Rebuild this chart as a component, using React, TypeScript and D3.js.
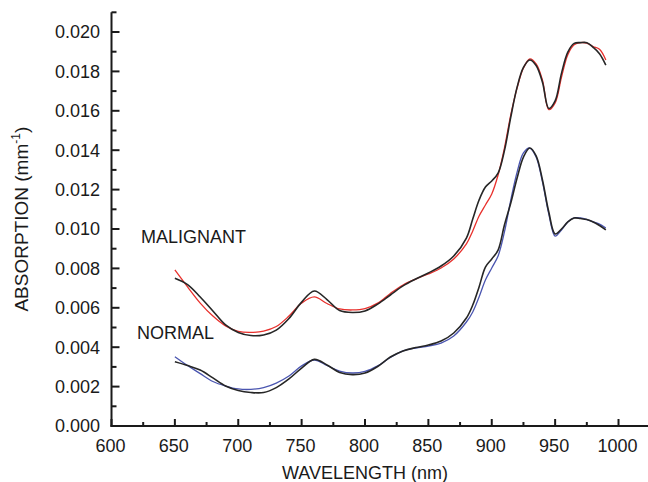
import React, { useEffect, useRef } from 'react';
import * as d3 from 'd3';

// wavelength grid (nm)
const wavelengths = [
  650, 660, 670, 680, 690, 700, 710, 720, 730, 740, 750, 760, 770, 780, 790, 800,
  810, 820, 830, 840, 850, 860, 870, 880, 885, 890, 895, 900, 905, 910, 915, 920,
  925, 930, 935, 940, 945, 950, 955, 960, 965, 970, 975, 980, 985, 990,
];

const malignantRed = [
  0.00792, 0.00706, 0.00624, 0.00558, 0.00508, 0.0048, 0.00475, 0.00482, 0.00505, 0.00558,
  0.00624, 0.00655, 0.00622, 0.00594, 0.00589, 0.00596, 0.00624, 0.00673, 0.00716, 0.00746,
  0.00772, 0.00802, 0.00848, 0.00924, 0.0099, 0.01066, 0.01122, 0.01178, 0.01274, 0.01411,
  0.01579, 0.01716, 0.01817, 0.01863, 0.01838, 0.01756, 0.01606, 0.0164, 0.0177, 0.01885,
  0.01935, 0.01946, 0.01944, 0.01926, 0.01912, 0.01858,
];

const malignantBlack = [
  0.0075, 0.00718, 0.00655, 0.00584, 0.00513, 0.00475, 0.00459, 0.00462, 0.00487, 0.00546,
  0.00629, 0.00685, 0.00642, 0.00586, 0.00576, 0.00584, 0.00619, 0.00665, 0.00711, 0.00746,
  0.00777, 0.00812, 0.00863, 0.00954, 0.01051, 0.01147, 0.01213, 0.01244, 0.01284, 0.01398,
  0.01568, 0.0172, 0.0182, 0.01858, 0.0183, 0.01745, 0.01612, 0.0165, 0.0179, 0.01898,
  0.01942, 0.01946, 0.01946, 0.01922, 0.0189, 0.01832,
];

const normalBlue = [
  0.00352, 0.00307, 0.00266, 0.00226, 0.00203, 0.00188, 0.00186, 0.00195, 0.00218, 0.00254,
  0.00305, 0.00335, 0.00307, 0.00279, 0.00269, 0.00277, 0.00305, 0.00348, 0.00381, 0.00396,
  0.00406, 0.00421, 0.00457, 0.00528, 0.00579, 0.00655, 0.00741, 0.00802, 0.00863, 0.00985,
  0.01147, 0.01289, 0.01386, 0.01411, 0.01365, 0.01239, 0.01076, 0.00964, 0.00995, 0.01036,
  0.01056, 0.01056, 0.01048, 0.01036, 0.01025, 0.01005,
];

const normalBlack = [
  0.00326, 0.00307, 0.00284, 0.00244, 0.00203, 0.0018, 0.0017, 0.0017, 0.00195, 0.00239,
  0.00294, 0.00338, 0.0031, 0.00272, 0.00261, 0.00269, 0.00302, 0.0035, 0.00381, 0.00398,
  0.00411, 0.00431, 0.00472, 0.00548, 0.00614, 0.00706, 0.00807, 0.00848, 0.00893, 0.0102,
  0.01132, 0.01259, 0.01365, 0.01411, 0.01371, 0.01249, 0.01086, 0.00975, 0.01, 0.01036,
  0.01056, 0.01053, 0.01048, 0.01036, 0.01018, 0.00995,
];

const xMajorTicks = [600, 650, 700, 750, 800, 850, 900, 950, 1000];
const xMinorTicks = [625, 675, 725, 775, 825, 875, 925, 975];
const yMajorTicks = [0, 0.002, 0.004, 0.006, 0.008, 0.01, 0.012, 0.014, 0.016, 0.018, 0.02];
const yMinorTicks = [0.001, 0.003, 0.005, 0.007, 0.009, 0.011, 0.013, 0.015, 0.017, 0.019, 0.021];

const font = '"Liberation Sans", Arial, Helvetica, sans-serif';
const ink = '#1a1a1a';

const App = () => {
  const svgRef = useRef(null);

  useEffect(() => {
    const width = 648;
    const height = 482;
    const svg = d3.select(svgRef.current);
    svg.selectAll('*').remove();

    const x = d3.scaleLinear().domain([600, 1025]).range([111.5, 650.2]);
    const y = d3.scaleLinear().domain([0, 0.021]).range([426, 12.3]);

    const line = d3
      .line()
      .x((d) => x(d[0]))
      .y((d) => y(d[1]))
      .curve(d3.curveCatmullRom);

    const series = [
      { values: malignantRed, color: '#e8302c', w: 1.3 },
      { values: normalBlue, color: '#4a55b0', w: 1.3 },
      { values: malignantBlack, color: '#262626', w: 1.6 },
      { values: normalBlack, color: '#262626', w: 1.6 },
    ];

    series.forEach((s) => {
      svg
        .append('path')
        .datum(wavelengths.map((wl, i) => [wl, s.values[i]]))
        .attr('fill', 'none')
        .attr('stroke', s.color)
        .attr('stroke-width', s.w)
        .attr('stroke-linejoin', 'round')
        .attr('d', line);
    });

    // axes
    const ax = svg.append('g').attr('stroke', ink).attr('stroke-width', 2);
    ax.append('line').attr('x1', x(600)).attr('x2', x(600)).attr('y1', y(0.021)).attr('y2', y(0) + 1);
    ax.append('line').attr('x1', x(600) - 1).attr('x2', width).attr('y1', y(0)).attr('y2', y(0));

    yMajorTicks.forEach((v) => {
      ax.append('line').attr('x1', x(600)).attr('x2', x(600) + 8).attr('y1', y(v)).attr('y2', y(v));
    });
    yMinorTicks.forEach((v) => {
      ax.append('line').attr('x1', x(600)).attr('x2', x(600) + 5).attr('y1', y(v)).attr('y2', y(v));
    });
    xMajorTicks.forEach((v) => {
      ax.append('line').attr('x1', x(v)).attr('x2', x(v)).attr('y1', y(0)).attr('y2', y(0) - 7);
    });
    xMinorTicks.forEach((v) => {
      ax.append('line').attr('x1', x(v)).attr('x2', x(v)).attr('y1', y(0)).attr('y2', y(0) - 4);
    });

    const txt = svg.append('g').attr('font-family', font).attr('fill', ink).attr('font-size', 18);

    yMajorTicks.forEach((v) => {
      txt
        .append('text')
        .attr('x', 100)
        .attr('y', y(v))
        .attr('dy', '0.35em')
        .attr('text-anchor', 'end')
        .text(d3.format('.3f')(v));
    });
    xMajorTicks.forEach((v) => {
      txt
        .append('text')
        .attr('x', x(v) - 1)
        .attr('y', 452)
        .attr('text-anchor', 'middle')
        .text(v);
    });

    txt
      .append('text')
      .attr('x', (x(600) + x(1000)) / 2)
      .attr('y', 479)
      .attr('text-anchor', 'middle')
      .text('WAVELENGTH (nm)');

    // y title, slightly wider spacing like the original
    const yt = txt
      .append('text')
      .attr('transform', `translate(28,${(y(0) + y(0.021)) / 2}) rotate(-90)`)
      .attr('text-anchor', 'middle')
      .attr('font-size', 19);
    yt.append('tspan').text('ABSORPTION (mm');
    yt.append('tspan').attr('font-size', 12).attr('dy', -8).text('-1');
    yt.append('tspan').attr('dy', 8).text(')');

    txt.append('text').attr('x', 141).attr('y', 243).text('MALIGNANT');
    txt.append('text').attr('x', 137).attr('y', 339).text('NORMAL');

    svg.attr('width', width).attr('height', height);
  }, []);

  return (
    <div style={{ position: 'absolute', left: 0, top: 0, width: 648, height: 482, background: '#fff' }}>
      <svg ref={svgRef} width={648} height={482}></svg>
    </div>
  );
};

export default App;
